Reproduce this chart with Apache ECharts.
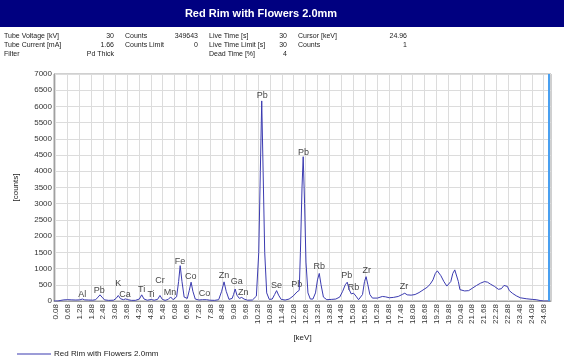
<!DOCTYPE html>
<html><head><meta charset="utf-8">
<script src="https://cdn.jsdelivr.net/npm/echarts@6/dist/echarts.min.js"></script>
<style>html,body{margin:0;padding:0;background:#fff}#c{width:564px;height:362px}</style>
</head><body><div id="c"></div>
<script>
const chartTitle = 'Red Rim with Flowers 2.0mm';
const seriesName = 'Red Rim with Flowers 2.0mm';
// spectrum samples [keV] and [counts]
const energy = [0.00,0.20,0.35,0.50,0.70,0.90,1.10,1.30,1.43,1.55,1.75,1.95,2.10,2.22,2.32,2.42,2.55,2.75,3.00,3.13,3.24,3.35,3.50,3.61,3.72,3.90,4.10,4.30,4.42,4.54,4.70,4.90,5.05,5.22,5.34,5.46,5.60,5.76,5.88,6.00,6.18,6.28,6.36,6.45,6.56,6.72,6.82,6.91,7.00,7.12,7.30,7.48,7.57,7.68,7.85,8.10,8.30,8.45,8.57,8.68,8.82,8.98,9.05,9.13,9.22,9.34,9.46,9.58,9.75,10.00,10.20,10.32,10.40,10.47,10.54,10.62,10.72,10.85,11.00,11.12,11.22,11.32,11.45,11.65,11.85,12.05,12.25,12.36,12.42,12.50,12.56,12.63,12.70,12.80,12.92,13.05,13.18,13.28,13.37,13.46,13.58,13.75,14.00,14.20,14.40,14.55,14.68,14.78,14.88,14.98,15.10,15.22,15.35,15.45,15.55,15.65,15.73,15.82,15.92,16.05,16.30,16.55,16.70,16.90,17.10,17.35,17.55,17.68,17.80,18.00,18.20,18.40,18.60,18.80,18.95,19.10,19.22,19.32,19.40,19.50,19.65,19.80,19.90,20.00,20.10,20.20,20.28,20.38,20.46,20.55,20.70,20.90,21.10,21.30,21.50,21.70,21.85,22.00,22.20,22.40,22.55,22.68,22.77,22.85,22.95,23.10,23.30,23.50,23.80,24.10,24.30,24.50,24.70,25.00];
const counts = [0,0,20,35,40,35,30,35,60,35,30,25,40,120,190,120,35,20,25,80,170,70,40,65,40,20,20,60,190,60,25,45,25,50,170,50,20,50,125,40,130,600,1090,600,120,80,330,580,300,60,30,40,80,40,25,20,40,300,590,300,50,80,200,370,180,80,110,60,25,30,150,1500,4000,6170,4000,1500,250,50,60,200,320,180,50,30,60,150,280,330,1500,3500,4450,3000,1200,250,60,60,250,650,850,500,120,40,50,60,120,300,500,580,350,220,240,150,40,30,200,600,750,500,200,90,90,140,130,100,110,140,200,240,190,180,200,260,340,420,510,650,850,930,900,780,600,460,440,600,850,960,900,600,350,300,310,320,400,480,550,600,580,520,450,360,380,480,530,450,320,240,160,100,70,50,40,15,0,0];
// peak labels: element, energy [keV], label height [counts]
const peakNames = ['Al','Pb','K','Ca','Ti','Ti','Cr','Mn','Fe','Co','Co','Zn','Ga','Zn','Pb','Se','Pb','Pb','Rb','Pb','Rb','Zr','Zr'];
const peakEnergy = [1.43,2.28,3.24,3.58,4.42,4.89,5.34,5.85,6.35,6.89,7.58,8.57,9.21,9.54,10.50,11.22,12.23,12.57,13.37,14.75,15.09,15.76,17.64];
const peakHeight = [207,318,546,207,340,207,617,256,1213,750,225,772,608,268,6339,473,515,4591,1060,772,423,935,441];
const xTicks = [0.08,0.68,1.28,1.88,2.48,3.08,3.68,4.28,4.88,5.48,6.08,6.68,7.28,7.88,8.48,9.08,9.68,10.28,10.88,11.48,12.08,12.68,13.28,13.88,14.48,15.08,15.68,16.28,16.88,17.48,18.08,18.68,19.28,19.88,20.48,21.08,21.68,22.28,22.88,23.48,24.08,24.68];
const cursorKeV = 24.96;
const info = [
  ['Tube Voltage [kV]','30','Counts','349643','Live Time [s]','30','Cursor [keV]','24.96'],
  ['Tube Current [mA]','1.66','Counts Limit','0','Live Time Limit [s]','30','Counts','1'],
  ['Filter','Pd Thick','','','Dead Time [%]','4','','']
];

const F = '"Liberation Sans", Arial, sans-serif';
const chart = echarts.init(document.getElementById('c'));
const graphics = [
  {type:'rect', left:0, top:0, shape:{x:0,y:0,width:564,height:27}, style:{fill:'#000080'}, silent:true},
  {type:'text', x:261, y:14, style:{text:chartTitle, fill:'#fff', font:'bold 11px '+F, textAlign:'center', textVerticalAlign:'middle'}}
];
const colX = [[4,'left'],[114,'right'],[125,'left'],[198,'right'],[209,'left'],[287,'right'],[298,'left'],[407,'right']];
info.forEach((row, r) => {
  row.forEach((t, c) => {
    if (!t) return;
    graphics.push({type:'text', x:colX[c][0], y:36 + r*9, style:{text:t, fill:'#222', font:'7px '+F, textAlign:colX[c][1], textVerticalAlign:'middle'}});
  });
});

chart.setOption({
  animation:false,
  graphic: graphics,
  grid:{left:54, right:13, top:74, bottom:61, show:true, borderColor:'#a0a0a0', borderWidth:1, backgroundColor:'#fff'},
  legend:{data:[seriesName], left:12, top:345, icon:'rect', itemWidth:34, itemHeight:1, itemGap:4,
    textStyle:{fontSize:8, fontFamily:F, color:'#222', padding:[0,0,0,-2]}},
  xAxis:{type:'value', min:0, max:25.05, name:'[keV]', nameLocation:'middle', nameGap:33,
    nameTextStyle:{fontSize:8, fontFamily:F, color:'#222'},
    axisLine:{show:true, onZero:false, lineStyle:{color:'#a0a0a0'}},
    axisTick:{show:false, customValues:xTicks},
    axisLabel:{customValues:xTicks, rotate:90, fontSize:8, fontFamily:F, color:'#333', margin:3,
      formatter:v => v.toFixed(2)},
    splitLine:{show:true, lineStyle:{color:'#dcdcdc', width:1}}},
  yAxis:{type:'value', min:0, max:7000, interval:500, name:'[counts]', nameLocation:'middle', nameGap:34,
    nameTextStyle:{fontSize:8, fontFamily:F, color:'#222'},
    axisLine:{show:true, lineStyle:{color:'#a0a0a0'}},
    axisTick:{show:false},
    axisLabel:{fontSize:8, fontFamily:F, color:'#333', margin:2, formatter:v => String(v)},
    splitLine:{show:true, lineStyle:{color:'#dcdcdc', width:1}}},
  series:[
    {name:seriesName, type:'line', data:energy.map((e,i)=>[e,counts[i]]), showSymbol:false, symbol:'none',
     lineStyle:{color:'#3b3bb0', width:1}, itemStyle:{color:'#3b3bb0'},
     markLine:{silent:true, symbol:'none', label:{show:false}, lineStyle:{color:'#4aa0f0', width:2, type:'solid'},
       data:[{xAxis:cursorKeV}]}},
    {name:'labels', type:'scatter', symbolSize:0, silent:true,
     data:peakNames.map((n,i)=>({name:n, value:[peakEnergy[i], peakHeight[i]]})),
     label:{show:true, position:'inside', formatter:p=>p.name, fontSize:9, fontFamily:F, color:'#111'}}
  ]
});
</script></body></html>
